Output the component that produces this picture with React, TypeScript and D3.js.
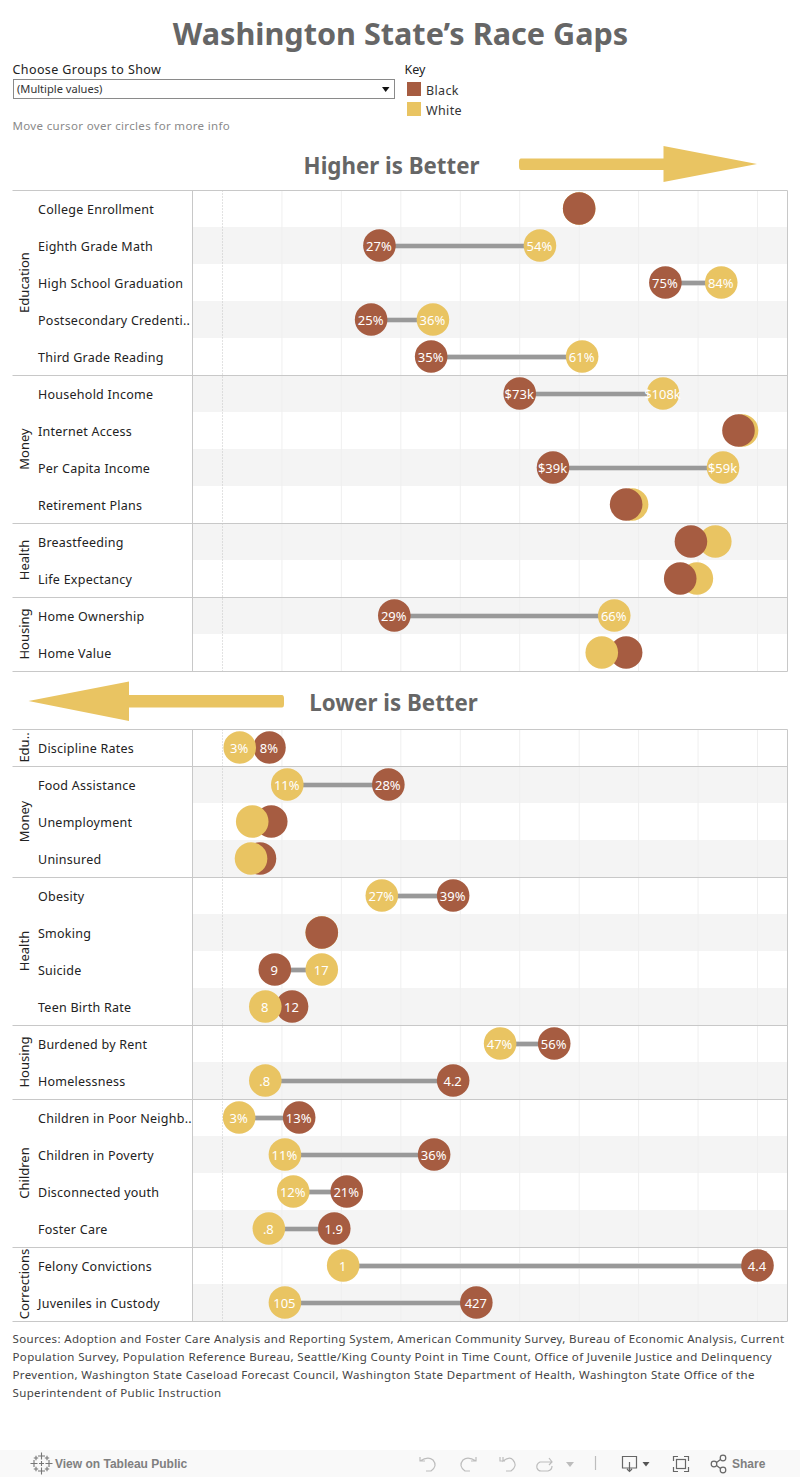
import React from "react";
import * as d3 from "d3";

const FONT = "'Noto Sans', 'Open Sans', sans-serif";
const BROWN = "#a65c41";
const GOLD = "#e9c462";

// Higher is better
const topGroups = ["Education", "Money", "Health", "Housing"];
const topGroupSizes = [5, 4, 2, 2];
const topMeasures = ["College Enrollment", "Eighth Grade Math", "High School Graduation", "Postsecondary Credenti..", "Third Grade Reading", "Household Income", "Internet Access", "Per Capita Income", "Retirement Plans", "Breastfeeding", "Life Expectancy", "Home Ownership", "Home Value"];
const topBlack = [60, 26.4, 74.5, 25, 35.1, 50, 86.8, 55.6, 67.9, 78.8, 77, 28.9, 67.9];
const topWhite = [60, 53.4, 83.9, 35.4, 60.5, 74.1, 87.4, 84.2, 68.9, 82.9, 79.8, 65.9, 63.8];
const topBlackLabels = ["", "27%", "75%", "25%", "35%", "$73k", "", "$39k", "", "", "", "29%", ""];
const topWhiteLabels = ["", "54%", "84%", "36%", "61%", "$108k", "", "$59k", "", "", "", "66%", ""];

// Lower is better
const bottomGroups = ["Edu..", "Money", "Health", "Housing", "Children", "Corrections"];
const bottomGroupSizes = [1, 3, 4, 2, 4, 2];
const bottomMeasures = ["Discipline Rates", "Food Assistance", "Unemployment", "Uninsured", "Obesity", "Smoking", "Suicide", "Teen Birth Rate", "Burdened by Rent", "Homelessness", "Children in Poor Neighb..", "Children in Poverty", "Disconnected youth", "Foster Care", "Felony Convictions", "Juveniles in Custody"];
const bottomBlack = [7.9, 27.9, 8.2, 6.3, 38.8, 16.7, 8.8, 11.7, 55.8, 38.8, 12.9, 35.6, 20.9, 18.8, 90, 42.7];
const bottomWhite = [2.9, 10.9, 5, 4.8, 26.8, 16.7, 16.7, 7.2, 46.7, 7.2, 2.8, 10.5, 11.9, 7.8, 20.3, 10.5];
const bottomBlackLabels = ["8%", "28%", "", "", "39%", "", "9", "12", "56%", "4.2", "13%", "36%", "21%", "1.9", "4.4", "427"];
const bottomWhiteLabels = ["3%", "11%", "", "", "27%", "", "17", "8", "47%", ".8", "3%", "11%", "12%", ".8", "1", "105"];

const gridTicks = [10, 20, 30, 40, 50, 60, 70, 80, 90];
const legendKeys = ["Black", "White"];
const sourceLines = [
  "Sources: Adoption and Foster Care Analysis and Reporting System, American Community Survey, Bureau of Economic Analysis, Current",
  "Population Survey, Population Reference Bureau, Seattle/King County Point in Time Count, Office of Juvenile Justice and Delinquency",
  "Prevention, Washington State Caseload Forecast Council, Washington State Department of Health, Washington State Office of the",
  "Superintendent of Public Instruction",
];

const ROW = 37;
const LEFT = 12.5, DIVIDER = 192.5, RIGHT = 787.5;
const x = d3.scaleLinear().domain([0, 90]).range([222.5, 757.5]);
const colorOf = d3.scaleOrdinal<string, string>().domain(legendKeys).range([BROWN, GOLD]);

type PanelProps = {
  top: number; measures: string[]; groups: string[]; sizes: number[];
  black: number[]; white: number[]; blackLabels: string[]; whiteLabels: string[];
};

function Panel({ top, measures, groups, sizes, black, white, blackLabels, whiteLabels }: PanelProps) {
  const n = measures.length;
  const y = d3.scaleBand<number>().domain(d3.range(n)).range([top, top + n * ROW]);
  const ends = d3.cumsum(sizes);
  return (
    <g>
      {measures.map((_, i) => i % 2 === 1 ? (
        <rect key={i} x={DIVIDER} y={y(i)! - 0.5} width={RIGHT - DIVIDER} height={ROW} fill="#f4f4f4" />
      ) : null)}
      {gridTicks.map(t => (
        <line key={t} x1={x(t)} x2={x(t)} y1={top} y2={top + n * ROW} stroke="#efefef" strokeWidth={1} />
      ))}
      <line x1={x(0)} x2={x(0)} y1={top} y2={top + n * ROW} stroke="#c4c4c4" strokeWidth={1} strokeDasharray="1 2" />
      <line x1={LEFT} x2={RIGHT} y1={top} y2={top} stroke="#c8c8c8" />
      {Array.from(ends).map((e, i) => (
        <line key={i} x1={LEFT} x2={RIGHT} y1={top + e * ROW} y2={top + e * ROW} stroke="#c8c8c8" />
      ))}
      <line x1={DIVIDER} x2={DIVIDER} y1={top} y2={top + n * ROW} stroke="#c8c8c8" />
      <line x1={RIGHT} x2={RIGHT} y1={top} y2={top + n * ROW} stroke="#c8c8c8" />
      {groups.map((g, i) => {
        const start = i === 0 ? 0 : ends[i - 1];
        const cy = top + ((start + ends[i]) / 2) * ROW;
        return (
          <text key={g} transform={`translate(23.5,${cy - 0.5}) rotate(-90)`} textAnchor="middle" dominantBaseline="central"
            fontFamily={FONT} fontSize={13} fill="#222">{g}</text>
        );
      })}
      {measures.map((m, i) => (
        <text key={m} x={38} y={y(i)! + ROW / 2} dominantBaseline="central" fontFamily={FONT} fontSize={12.5} letterSpacing={0.25} fill="#222">{m}</text>
      ))}
      {measures.map((_, i) => {
        const yc = y(i)! + ROW / 2;
        const marks = [
          { key: "Black", v: black[i], label: blackLabels[i] },
          { key: "White", v: white[i], label: whiteLabels[i] },
        ];
        // the lower value sits on top; on a tie Black does
        const ordered = black[i] === white[i] ? [marks[1], marks[0]] : d3.sort(marks, (a, b) => b.v - a.v);
        const hasLine = Math.abs(x(black[i]) - x(white[i])) > 33;
        return (
          <g key={i}>
            {hasLine && (
              <>
                <line x1={x(black[i])} x2={x(white[i])} y1={yc} y2={yc} stroke="#d9d9d9" strokeWidth={6} />
                <line x1={x(black[i])} x2={x(white[i])} y1={yc} y2={yc} stroke="#999" strokeWidth={4} />
              </>
            )}
            {ordered.map(d => (
              <circle key={d.key} cx={x(d.v)} cy={yc - 0.5} r={16.3} fill={colorOf(d.key)} />
            ))}
            {ordered.map(d => d.label ? (
              <text key={d.key} x={x(d.v) - 0.5} y={yc} textAnchor="middle" dominantBaseline="central"
                fontFamily={FONT} fontSize={13} fill="#fff">{d.label}</text>
            ) : null)}
          </g>
        );
      })}
    </g>
  );
}

const toolbarIcon = { fill: "none", stroke: "#bdbdbd", strokeWidth: 1.2 };
const toolbarDark = { fill: "none", stroke: "#666", strokeWidth: 1.2 };
const logoCrosses = [[41.5, 1456, 3.5], [41.5, 1471, 3.5], [34, 1463.5, 3.5], [49, 1463.5, 3.5], [41.5, 1463.5, 2.5], [36, 1458, 2.2], [47, 1458, 2.2], [36, 1469, 2.2], [47, 1469, 2.2]];

export default function App() {
  return (
    <svg width={800} height={1477} viewBox="0 0 800 1477" style={{ position: "absolute", left: 0, top: 0, display: "block" }}>
      <rect width={800} height={1477} fill="#fff" />
      <text x={400.5} y={45} textAnchor="middle" fontFamily={FONT} fontWeight={700} fontSize={30.6} fill="#666">Washington State’s Race Gaps</text>

      <text x={12.5} y={74} fontFamily={FONT} fontSize={12.5} letterSpacing={0.4} fill="#222">Choose Groups to Show</text>
      <rect x={13.5} y={79.5} width={381} height={19} fill="#fff" stroke="#8a8a8a" />
      <text x={17} y={93} fontFamily={FONT} fontSize={11.1} fill="#333">(Multiple values)</text>
      <path d="M382 87 L389.5 87 L385.7 92 Z" fill="#111" />
      <text x={12.5} y={130} fontFamily={FONT} fontSize={11.5} letterSpacing={0.34} fill="#8a8a8a">Move cursor over circles for more info</text>

      <text x={404.5} y={74} fontFamily={FONT} fontSize={12.5} fill="#222">Key</text>
      {legendKeys.map((k, i) => (
        <g key={k}>
          <rect x={407} y={82 + i * 20} width={14} height={14} fill={colorOf(k)} />
          <text x={426} y={94.5 + i * 20} fontFamily={FONT} fontSize={12.5} letterSpacing={0.35} fill="#333">{k}</text>
        </g>
      ))}

      <text x={391.5} y={174} textAnchor="middle" fontFamily={FONT} fontWeight={700} fontSize={22.3} fill="#666">Higher is Better</text>
      <path d="M521 158.5 L663.5 158.5 L663.5 146 L757 164 L663.5 182 L663.5 170 L521 170 Q519 170 519 166 L519 162 Q519 158.5 521 158.5 Z" fill={GOLD} />

      <Panel top={190.5} measures={topMeasures} groups={topGroups} sizes={topGroupSizes} black={topBlack} white={topWhite} blackLabels={topBlackLabels} whiteLabels={topWhiteLabels} />

      <text x={393.5} y={711} textAnchor="middle" fontFamily={FONT} fontWeight={700} fontSize={22.3} fill="#666">Lower is Better</text>
      <path d="M282 695 L129 695 L129 681.5 L28.5 701 L129 721 L129 707.5 L282 707.5 Q284 707.5 284 704 L284 698.5 Q284 695 282 695 Z" fill={GOLD} />

      <Panel top={729.5} measures={bottomMeasures} groups={bottomGroups} sizes={bottomGroupSizes} black={bottomBlack} white={bottomWhite} blackLabels={bottomBlackLabels} whiteLabels={bottomWhiteLabels} />

      {sourceLines.map((s, i) => (
        <text key={i} x={12.5} y={1343 + i * 18} fontFamily={FONT} fontSize={11.5} letterSpacing={0.36} fill="#444">{s}</text>
      ))}

      <rect x={0} y={1450} width={800} height={27} fill="#f9f9f9" />
      <g stroke="#777" strokeWidth={1.1} fill="none">
        {logoCrosses.map(([cx, cy, r], i) => (
          <path key={i} d={`M${cx - r} ${cy} H${cx + r} M${cx} ${cy - r} V${cy + r}`} />
        ))}
      </g>
      <text x={55} y={1468} fontFamily="'Liberation Sans', Arial, sans-serif" fontWeight={700} fontSize={12} fill="#808080">View on Tableau Public</text>
      <g {...toolbarIcon}>
        <path d="M420 1457 V1461 H425 M420 1461 Q428 1456 433 1460 Q438 1466 431 1471 H426" />
        <path d="M476 1457 V1461 H471 M476 1461 Q468 1456 463 1460 Q458 1466 465 1471 H470" />
        <path d="M500 1457 V1461 H505 M503 1457 V1461 Q510 1456 513 1460 Q518 1466 511 1471 H506" />
        <path d="M552 1462 H540 Q536 1464 537 1468 Q538 1471 541 1471 H548 Q552 1470 552 1466 M549 1458 L552 1462 L549 1465" />
        <path d="M595.5 1456 V1470" />
      </g>
      <path d="M566 1462 H574 L570 1467 Z" fill="#bdbdbd" />
      <g {...toolbarDark}>
        <path d="M629 1468 H622.5 V1456.5 H636.5 V1468 H630 M629.5 1462 V1471 M627 1469 L629.5 1471.5 L632 1469" />
        <path d="M673.5 1461 V1456.5 H678 M684 1456.5 H688.5 V1461 M688.5 1467 V1471.5 H684 M678 1471.5 H673.5 V1467" />
        <rect x={676.5} y={1459.5} width={9} height={9} />
        <circle cx={714} cy={1464} r={2.8} />
        <circle cx={723} cy={1458} r={2.8} />
        <circle cx={723} cy={1470} r={2.8} />
        <path d="M716.5 1462.5 L720.5 1459.5 M716.5 1465.5 L720.5 1468.5" />
      </g>
      <path d="M642.5 1462 H649.5 L646 1466.5 Z" fill="#555" />
      <text x={732} y={1468} fontFamily="'Liberation Sans', Arial, sans-serif" fontWeight={700} fontSize={12} fill="#808080">Share</text>
    </svg>
  );
}
